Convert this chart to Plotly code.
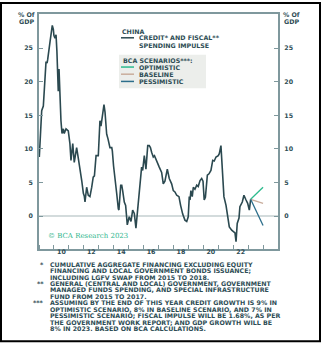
import plotly.graph_objects as go

# ---------------- data ----------------
YEARS = [2009.02, 2009.10, 2009.18, 2009.29, 2009.37, 2009.47, 2009.54, 2009.58, 2009.74, 2009.89,
         2009.96, 2010.00, 2010.07, 2010.14, 2010.20, 2010.25, 2010.29, 2010.34, 2010.39, 2010.47,
         2010.54, 2010.63, 2010.69, 2010.81, 2010.96, 2011.07, 2011.14, 2011.26, 2011.36, 2011.52,
         2011.64, 2011.74, 2011.86, 2011.97, 2012.03, 2012.08, 2012.19, 2012.30, 2012.41, 2012.53,
         2012.63, 2012.71, 2012.82, 2012.97, 2013.08, 2013.15, 2013.24, 2013.30, 2013.35, 2013.42,
         2013.53, 2013.62, 2013.75, 2013.87, 2013.91, 2013.99, 2014.09, 2014.20, 2014.31, 2014.35,
         2014.47, 2014.54, 2014.60, 2014.71, 2014.80, 2014.87, 2014.91, 2015.04, 2015.16, 2015.27,
         2015.38, 2015.49, 2015.61, 2015.76, 2015.87, 2015.94, 2016.05, 2016.16, 2016.28, 2016.38,
         2016.46, 2016.54, 2016.65, 2016.73, 2016.81, 2016.92, 2017.05, 2017.21, 2017.32, 2017.43,
         2017.59, 2017.72, 2017.88, 2017.99, 2018.10, 2018.22, 2018.37, 2018.48, 2018.62, 2018.77,
         2018.89, 2018.99, 2019.06, 2019.11, 2019.17, 2019.26, 2019.33, 2019.44, 2019.56, 2019.66,
         2019.78, 2019.89, 2019.98, 2020.06, 2020.14, 2020.27, 2020.38, 2020.51, 2020.63, 2020.73,
         2020.85, 2021.00, 2021.07, 2021.18, 2021.27, 2021.38, 2021.52, 2021.63, 2021.74, 2021.90,
         2022.01, 2022.12, 2022.19, 2022.27, 2022.39, 2022.45, 2022.61, 2022.72, 2022.86, 2022.97,
         2023.08, 2023.17]
IMPULSE = [8.8, 12.0, 15.7, 16.4, 19.5, 23.0, 22.8, 23.3, 26.0, 28.4,
           27.8, 26.9, 26.5, 27.0, 24.5, 22.0, 18.6, 21.9, 18.6, 14.2,
           12.3, 13.0, 12.3, 13.0, 12.7, 10.8, 8.3, 10.8, 8.0, 10.2,
           8.5, 7.3, 5.3, 3.4, 3.0, 2.1, 4.3, 3.1, 2.9, 4.3,
           5.8, 6.0, 9.0, 9.0, 14.2, 13.4, 15.0, 15.7, 16.6, 15.5,
           12.2, 11.5, 10.2, 10.2, 9.7, 7.5, 5.8, 3.4, 1.1, 0.9,
           4.6, 4.6, 3.8, 2.1, 1.6, 0.1, -1.3, -0.1, -0.8, 0.9,
           0.4, -1.8, 0.9, 4.5, 7.3, 6.8, 9.0, 7.0, 10.5, 10.5,
           10.2, 9.5, 8.8, 9.0, 8.5, 8.0, 7.3, 6.5, 4.8, 5.2,
           7.0, 5.6, 4.8, 3.8, 3.6, 3.1, 2.9, 1.6, 0.3, -0.6,
           -0.8, -0.1, 2.9, 2.4, 3.8, 2.9, 4.3, 4.0, 4.6, 4.4,
           5.3, 5.6, 5.2, 2.4, 2.8, 6.1, 6.3, 6.8, 8.3, 8.2,
           8.8, 9.0, 9.3, 10.5, 7.3, 2.9, 1.6, -0.3, -1.6, -2.1,
           -2.3, -2.5, -3.8, -1.1, -0.3, 1.4, 2.1, 3.1, 2.4, 1.9,
           0.9, 2.5]

SCEN_YEARS = [2023.17, 2024.0]
OPTIMISTIC = [2.5, 4.3]
BASELINE = [2.5, 1.9]
PESSIMISTIC = [2.5, -1.4]

Y_TICKS = [0, 5, 10, 15, 20, 25]
X_LABEL_POS = [2010.5, 2012.5, 2014.5, 2016.5, 2018.5, 2020.5, 2022.5]
X_LABELS = ["10", "12", "14", "16", "18", "20", "22"]

FOOTNOTES = [
    ("*", "CUMULATIVE AGGREGATE FINANCING EXCLUDING EQUITY"),
    ("", "FINANCING AND LOCAL GOVERNMENT BONDS ISSUANCE;"),
    ("", "INCLUDING LGFV SWAP FROM 2015 TO 2018."),
    ("**", "GENERAL (CENTRAL AND LOCAL) GOVERNMENT, GOVERNMENT"),
    ("", "MANAGED FUNDS SPENDING, AND SPECIAL INFRASTRUCTURE"),
    ("", "FUND FROM 2015 TO 2017."),
    ("***", "ASSUMING BY THE END OF THIS YEAR CREDIT GROWTH IS 9% IN"),
    ("", "OPTIMISTIC SCENARIO, 8% IN BASELINE SCENARIO, AND 7% IN"),
    ("", "PESSIMISTIC SCENARIO; FISCAL IMPULSE WILL BE 1.68%, AS PER"),
    ("", "THE GOVERNMENT WORK REPORT; AND GDP GROWTH WILL BE"),
    ("", "8% IN 2023. BASED ON BCA CALCULATIONS."),
]

# ---------------- styles ----------------
W, H = 322, 347
L, R, T, B = 39, 278, 12, 249
MAIN = "#2b4950"
C_OPT = "#2dbb8e"
C_BASE = "#c9ad9c"
C_PESS = "#2c6e8b"
TXT = "#2e4d55"
AX = "#7f989d"
FONT = "DejaVu Sans"


def X(px):
    return (px - L) / (R - L)


def Y(py):
    return (B - py) / (B - T)


fig = go.Figure()
fig.add_trace(go.Scatter(x=YEARS, y=IMPULSE, mode="lines",
                         line=dict(color=MAIN, width=1.6), showlegend=False))
fig.add_trace(go.Scatter(x=SCEN_YEARS, y=OPTIMISTIC, mode="lines", yaxis="y2",
                         line=dict(color=C_OPT, width=1.3), showlegend=False))
fig.add_trace(go.Scatter(x=SCEN_YEARS, y=BASELINE, mode="lines", yaxis="y2",
                         line=dict(color=C_BASE, width=1.3), showlegend=False))
fig.add_trace(go.Scatter(x=SCEN_YEARS, y=PESSIMISTIC, mode="lines", yaxis="y2",
                         line=dict(color=C_PESS, width=1.3), showlegend=False))

tickfont = dict(family=FONT, size=6.3, color=TXT, weight=700)
yr = [-4.9, 30.1]

fig.update_layout(
    width=W, height=H,
    margin=dict(l=L, r=W - R, t=T, b=H - B, pad=0),
    paper_bgcolor="white", plot_bgcolor="white",
    showlegend=False,
    xaxis=dict(range=[2009, 2025], tickvals=X_LABEL_POS, ticktext=X_LABELS,
               ticks="", ticklen=0, showgrid=False, zeroline=False, tickfont=tickfont,
               showline=True, linecolor=AX, linewidth=1.5, mirror=True,
               ticklabelstandoff=-4,
               minor=dict(tick0=2009, dtick=1, ticks="inside", ticklen=4,
                          tickcolor=AX, tickwidth=1, showgrid=False)),
    yaxis=dict(range=yr, tickvals=Y_TICKS, ticks="inside", ticklen=4,
               tickcolor=AX, tickwidth=1, showgrid=False,
               zeroline=True, zerolinecolor="#d3dbdc", zerolinewidth=1.5,
               showline=True, linecolor=AX, linewidth=1.5, mirror=True,
               tickfont=tickfont, ticklabelstandoff=3),
    yaxis2=dict(range=yr, tickvals=Y_TICKS, ticks="inside", ticklen=4,
                tickcolor=AX, tickwidth=1, showgrid=False, zeroline=False,
                overlaying="y", side="right", showline=True, linecolor=AX,
                linewidth=2, tickfont=tickfont, ticklabelstandoff=3),
)

ann = []


def text(px, py, s, size=6.3, color=TXT, anchor="left", family=FONT, weight=700):
    ann.append(dict(x=X(px), y=Y(py), xref="paper", yref="paper", text=s,
                    showarrow=False, xanchor=anchor, yanchor="middle",
                    font=dict(family=family, size=size, color=color, weight=weight)))


shapes = []


def hline(x0, x1, py, color, width=1.5):
    shapes.append(dict(type="line", xref="paper", yref="paper",
                       x0=X(x0), x1=X(x1), y0=Y(py), y1=Y(py),
                       line=dict(color=color, width=width)))


# axis unit labels
text(26, 13, "% Of", anchor="center")
text(26, 19.5, "GDP", anchor="center")
text(291, 13, "% Of", anchor="center")
text(291, 19.5, "GDP", anchor="center")

# legend block
text(120, 30, "CHINA")
hline(121, 134, 36, MAIN)
text(136.5, 36, "CREDIT* AND FISCAL**")
text(136.5, 44, "SPENDING IMPULSE")
shapes.append(dict(type="rect", xref="paper", yref="paper", layer="below",
                   x0=X(119), x1=X(206), y0=Y(87), y1=Y(53),
                   fillcolor="#eceeeb", line=dict(width=0)))
text(121, 59.3, "BCA SCENARIOS***:")
hline(121, 134, 65.5, C_OPT)
text(136.5, 65.5, "OPTIMISTIC")
hline(121, 134, 72.7, C_BASE)
text(136.5, 72.7, "BASELINE")
hline(121, 134, 80, C_PESS)
text(136.5, 80, "PESSIMISTIC")

# copyright
text(46, 236, "© BCA Research 2023", size=7, color="#2db58c",
     family="DejaVu Serif", weight=400)

# footnotes
for i, (mark, line) in enumerate(FOOTNOTES):
    py = 264.3 + i * 6.5
    if mark:
        text(46, py, mark, anchor="right")
    text(48, py, line)

# outer black frame
shapes.append(dict(type="rect", xref="paper", yref="paper",
                   x0=X(1), x1=X(320), y0=Y(342), y1=Y(1),
                   line=dict(color="black", width=2)))

fig.update_layout(annotations=ann, shapes=shapes)
fig.write_html("out.html")
